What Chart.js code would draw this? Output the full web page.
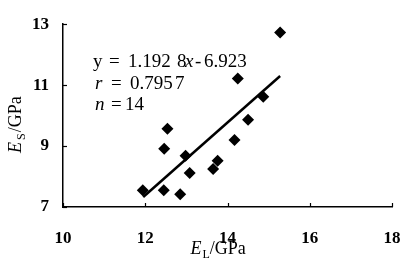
<!DOCTYPE html>
<html>
<head>
<meta charset="utf-8">
<script src="https://cdn.jsdelivr.net/npm/chart.js@4"></script>
<style>
html, body { margin: 0; padding: 0; background: #fff; }
.preload { position: absolute; left: -999px; top: 0; font-family: 'Liberation Serif'; }
</style>
</head>
<body>
<span class="preload">1.192 <i>x</i> <b>13</b></span>
<canvas id="chart" width="405" height="269"></canvas>
<script>
// E_L (x) and E_S (y), GPa
var elValues = [11.94, 12.45, 12.85, 12.46, 12.54, 12.98, 13.08, 13.65, 13.76, 14.17, 14.25, 14.50, 14.87, 15.28];
var esValues = [7.55, 7.55, 7.42, 8.91, 9.57, 8.68, 8.12, 8.25, 8.52, 9.20, 11.22, 9.86, 10.62, 12.73];

// ends of the fitted line as drawn
var fitX = [11.95, 15.28];
var fitY = [7.33, 11.30];

var xTicks = [10, 12, 14, 16, 18];
var yTicks = [7, 9, 11, 13];

// annotation text: [text, italic]
var noteLines = [
    [["y", false], ["=", false], ["1.192", false], ["8", false], ["x", true], ["-", false], ["6.923", false]],
    [["r", true], ["=", false], ["0.795", false], ["7", false]],
    [["n", true], ["=", false], ["14", false]]
];
// where each piece sits, px from the plot's left edge / top edge (baseline)
var noteOffsets = [
    [30, 46, 65, 114, 122, 132, 141],
    [32, 48, 67, 112],
    [32, 48, 62]
];
var noteBaselines = [43, 65, 86];

var SERIF = "'Liberation Serif', 'Times New Roman', serif";

var extrasPlugin = {
    id: "extras",
    afterDraw: function(chart) {
        var ctx = chart.ctx;
        var area = chart.chartArea;
        var xs = chart.scales.x, ys = chart.scales.y;

        ctx.save();
        ctx.strokeStyle = "#000";
        ctx.lineWidth = 1.2;
        // inward tick marks
        xTicks.forEach(function(v) {
            var px = Math.round(xs.getPixelForValue(v)) + 0.5;
            ctx.beginPath();
            ctx.moveTo(px, area.bottom);
            ctx.lineTo(px, area.bottom - 4);
            ctx.stroke();
        });
        yTicks.forEach(function(v) {
            var py = Math.round(ys.getPixelForValue(v)) + 0.5;
            ctx.beginPath();
            ctx.moveTo(area.left, py);
            ctx.lineTo(area.left + 4, py);
            ctx.stroke();
        });

        ctx.fillStyle = "#000";

        // x tick labels
        ctx.textAlign = "center";
        ctx.textBaseline = "alphabetic";
        ctx.font = "bold 17px " + SERIF;
        xTicks.forEach(function(v) {
            ctx.fillText(String(v), xs.getPixelForValue(v), area.bottom + 36);
        });

        ctx.textAlign = "left";

        // equation block
        noteLines.forEach(function(runs, i) {
            runs.forEach(function(run, j) {
                ctx.font = (run[1] ? "italic " : "") + "19px " + SERIF;
                ctx.fillText(run[0], area.left + noteOffsets[i][j], area.top + noteBaselines[i]);
            });
        });

        // x axis title: E_L/GPa
        var bx = (area.left + area.right) / 2 - 37;
        var by = area.bottom + 47;
        ctx.font = "italic 18px " + SERIF;
        ctx.fillText("E", bx, by);
        bx += ctx.measureText("E").width + 1;
        ctx.font = "12px " + SERIF;
        ctx.fillText("L", bx, by + 4);
        bx += ctx.measureText("L").width;
        ctx.font = "18px " + SERIF;
        ctx.fillText("/GPa", bx, by);

        // y axis title: E_S/GPa, rotated
        ctx.translate(21, 153);
        ctx.rotate(-Math.PI / 2);
        var tx = 0;
        ctx.font = "italic 18px " + SERIF;
        ctx.fillText("E", tx, 0);
        tx += ctx.measureText("E").width + 2;
        ctx.font = "12px " + SERIF;
        ctx.fillText("S", tx, 4);
        tx += ctx.measureText("S").width + 1;
        ctx.font = "18px " + SERIF;
        ctx.fillText("/GPa", tx, 0);
        ctx.restore();
    }
};

function buildChart() {
    var points = elValues.map(function(v, i) { return { x: v, y: esValues[i] }; });
    var fitLine = fitX.map(function(v, i) { return { x: v, y: fitY[i] }; });

    new Chart(document.getElementById("chart"), {
        type: "scatter",
        data: {
            datasets: [
                {
                    data: points,
                    pointStyle: "rectRot",
                    pointRadius: 6,
                    pointHoverRadius: 6,
                    backgroundColor: "#000",
                    borderColor: "#000",
                    borderWidth: 0
                },
                {
                    type: "line",
                    data: fitLine,
                    borderColor: "#000",
                    borderWidth: 2.5,
                    pointRadius: 0,
                    fill: false
                }
            ]
        },
        options: {
            responsive: false,
            animation: false,
            devicePixelRatio: 1,
            layout: { padding: { top: 13, right: 13, left: 0, bottom: 0 } },
            plugins: {
                legend: { display: false },
                tooltip: { enabled: false }
            },
            scales: {
                x: {
                    type: "linear",
                    min: 10,
                    max: 18,
                    afterFit: function(scale) { scale.height = 62; },
                    afterBuildTicks: function(scale) {
                        scale.ticks = xTicks.map(function(v) { return { value: v }; });
                    },
                    grid: { drawOnChartArea: false, drawTicks: false },
                    border: { display: true, color: "#000", width: 1.5 },
                    ticks: { display: false }
                },
                y: {
                    min: 7,
                    max: 13,
                    afterFit: function(scale) { scale.width = 63; },
                    afterBuildTicks: function(scale) {
                        scale.ticks = yTicks.map(function(v) { return { value: v }; });
                    },
                    grid: { drawOnChartArea: false, drawTicks: false },
                    border: { display: true, color: "#000", width: 1.5 },
                    ticks: {
                        autoSkip: false,
                        padding: 14,
                        color: "#000",
                        font: { family: SERIF, size: 17, weight: "bold" }
                    }
                }
            }
        },
        plugins: [extrasPlugin]
    });
}

Promise.all([
    document.fonts.load("19px 'Liberation Serif'"),
    document.fonts.load("italic 19px 'Liberation Serif'"),
    document.fonts.load("bold 17px 'Liberation Serif'")
]).then(buildChart, buildChart);
</script>
</body>
</html>
